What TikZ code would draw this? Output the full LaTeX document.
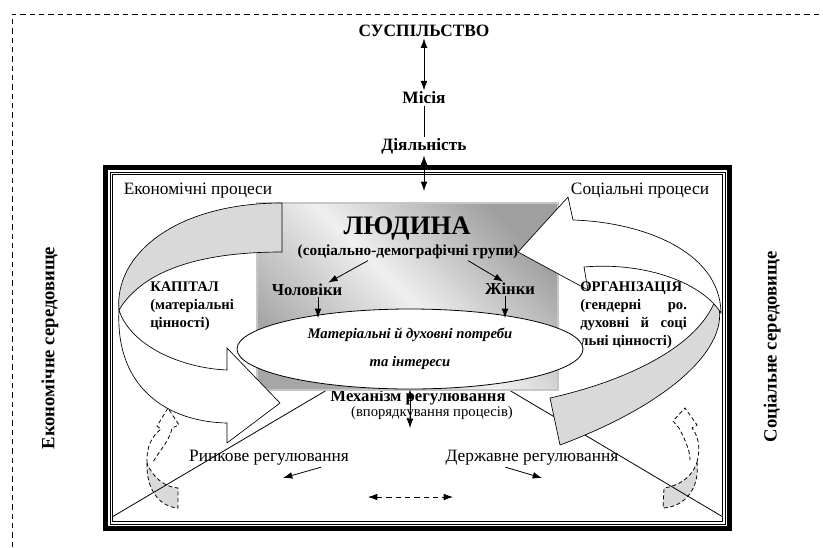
\documentclass[tikz,border=0pt]{standalone}
\usepackage{fontspec}
\setmainfont{Liberation Serif}
\usetikzlibrary{positioning,arrows.meta,shapes.geometric}
\tikzset{
  connect/.style={-{Latex[length=7pt,width=5pt]}, semithick},
  both/.style={{Latex[length=7pt,width=5pt]}-{Latex[length=7pt,width=5pt]}, semithick},
  bigtext/.style={font=\bfseries\fontsize{13}{15}\selectfont, inner sep=1pt},
  midtext/.style={font=\bfseries\fontsize{12.5}{14}\selectfont, inner sep=1pt},
  proc/.style={font=\fontsize{13}{15}\selectfont, inner sep=1pt},
  sidetext/.style={font=\bfseries\fontsize{14}{16}\selectfont, rotate=90},
  humanbox/.style={rectangle, draw=gray!45, line width=1pt, minimum width=225.75pt, minimum height=140.25pt,
    top color=gray!75, bottom color=gray!70, middle color=gray!12, shading angle=-45},
  needsbox/.style={ellipse, draw, fill=white, semithick, minimum width=259.5pt, minimum height=60pt,
    inner sep=0pt, align=center, font=\bfseries\itshape\fontsize{11}{13}\selectfont},
  valuetext/.style={font=\bfseries\fontsize{11}{13.5}\selectfont, inner sep=0pt},
  band/.style={draw=black, line width=0.5pt},
  dashshape/.style={draw=black, line width=0.6pt, dash pattern=on 3pt off 2pt}
}

\begin{document}
\begin{tikzpicture}[x=0.75pt, y=-0.75pt]
  \useasboundingbox (0,0) rectangle (823,547);
  % outer environment border
  \draw[semithick, dash pattern=on 4pt off 3pt] (12,547) -- (12,14) -- (823,14);

  \node[bigtext] (society) at (424,31) {СУСПІЛЬСТВО};
  \node[bigtext] (mission) at (424,98) {Місія};
  \node[bigtext] (activity) at (424,146) {Діяльність};
  \coordinate (actin) at (424,191);
  \path (society) edge [both] (mission);
  \path (mission) edge [semithick] (activity);
  \path (activity) edge [both] (actin);

  % frame
  \draw[line width=3.75pt] (105.5,167.5) rectangle (729.5,528.5);
  \draw[line width=0.6pt] (110,172) rectangle (725,524);
  \draw[line width=0.6pt] (112.5,174.5) rectangle (722.5,521.5);

  \node[sidetext] (econenv) at (50,348) {Економічне середовище};
  \node[sidetext] (socenv) at (772,347) {Соціальне середовище};

  % dashed turning arrows
  \draw[dashshape, fill=gray!30] (147,463) .. controls (146,490) and (160,507) .. (178,508) -- (178,488)
    .. controls (165,487) and (153,478) .. (147,463) -- cycle;
  \draw[dashshape] (147,463) .. controls (146,447) and (152,436) .. (161,429) -- (157,426) -- (168,408)
    -- (179,425) -- (172,428) .. controls (170,440) and (160,450) .. (153,462);
  \draw[dashshape, fill=gray!30] (697,462) .. controls (700,488) and (685,507) .. (663,508) -- (664,488)
    .. controls (678,486) and (692,478) .. (697,462) -- cycle;
  \draw[dashshape] (697,462) .. controls (701,447) and (698,436) .. (692,428) -- (697,425) -- (685,408)
    -- (673,421) -- (679,428) .. controls (685,440) and (690,450) .. (690,460);

  \node[midtext] (mech) at (418,398) {Механізм регулювання};
  \coordinate (frameSW) at (112,517);
  \coordinate (frameSE) at (723,517);
  \draw[semithick] (frameSW) -- (mech.north west);
  \draw[semithick] (mech.north east) -- (frameSE);

  % human
  \node[humanbox] (human) at (407.5,296.5) {};

  % economic processes arrow
  \draw[band, fill=gray!30] (282,203) .. controls (175,203) and (114,255) .. (119,310)
    .. controls (140,275) and (190,252) .. (282,252) -- cycle;
  \draw[band, fill=white] (119,310) .. controls (115,390) and (170,422) .. (227,423) -- (227,443)
    -- (280,403) -- (227,348) -- (227,370) .. controls (180,368) and (130,345) .. (119,310) -- cycle;
  % social processes arrow
  \draw[band, fill=gray!30] (550,398) .. controls (630,380) and (700,345) .. (716,298)
    .. controls (735,340) and (680,400) .. (560,445) -- cycle;
  \draw[band, fill=white] (721,313) .. controls (720,250) and (640,222) .. (573,220) -- (568,197)
    -- (518,252) -- (588,290) -- (584,267) .. controls (640,262) and (700,280) .. (721,313) -- cycle;

  \node[font=\bfseries\fontsize{20}{22}\selectfont, inner sep=1pt] (humantitle) at (407,229) {ЛЮДИНА};
  \node[font=\bfseries\fontsize{11.5}{13}\selectfont, inner sep=1pt] (groups) at (408,252) {(соціально-демографічні групи)};
  \node[midtext] (men) at (307,290) {Чоловіки};
  \node[midtext] (women) at (510,289) {Жінки};
  \path ([xshift=-30pt]groups.south) edge [connect] ([xshift=16pt]men.north);
  \path ([xshift=45pt]groups.south) edge [connect] ([xshift=-5pt]women.north);

  \node[valuetext, anchor=west, align=left] (capital) at (150,306) {КАПІТАЛ\\(матеріальні\\цінності)};
  \node[valuetext, anchor=west, text width=80pt, align=justify] (org) at (580,315)
    {ОРГАНІЗАЦІЯ\linebreak (гендерні ро.\linebreak духовні й соці\linebreak льні цінності)};

  \node[needsbox] (needs) at (410,349) {Матеріальні й духовні потреби\\[8pt]та інтереси};
  \coordinate (menin) at (318,318);
  \coordinate (womenin) at (505,318);
  \path (menin |- men.south) edge [connect] (menin);
  \path (womenin |- women.south) edge [connect] (womenin);

  \node[proc, font=\fontsize{11}{13}\selectfont] (order) at (432,413) {(впорядкування процесів)};
  \coordinate (mechbot) at (410,428);
  \path (needs.south) edge [both] (mechbot);

  \node[proc] (econ) at (198,191) {Економічні процеси};
  \node[proc] (social) at (640,191) {Соціальні процеси};

  \node[proc] (market) at (269,458) {Ринкове регулювання};
  \node[proc] (state) at (532,458) {Державне регулювання};
  \coordinate (marketend) at (283,478);
  \coordinate (stateend) at (542,478);
  \path ([xshift=-22pt]market.south east) edge [connect] (marketend);
  \path ([xshift=-20pt]state.south) edge [connect] (stateend);
  \coordinate (balleft) at (368,497);
  \coordinate (balright) at (453,497);
  \path (balleft) edge [both, dash pattern=on 4pt off 3pt] (balright);
\end{tikzpicture}
\end{document}
